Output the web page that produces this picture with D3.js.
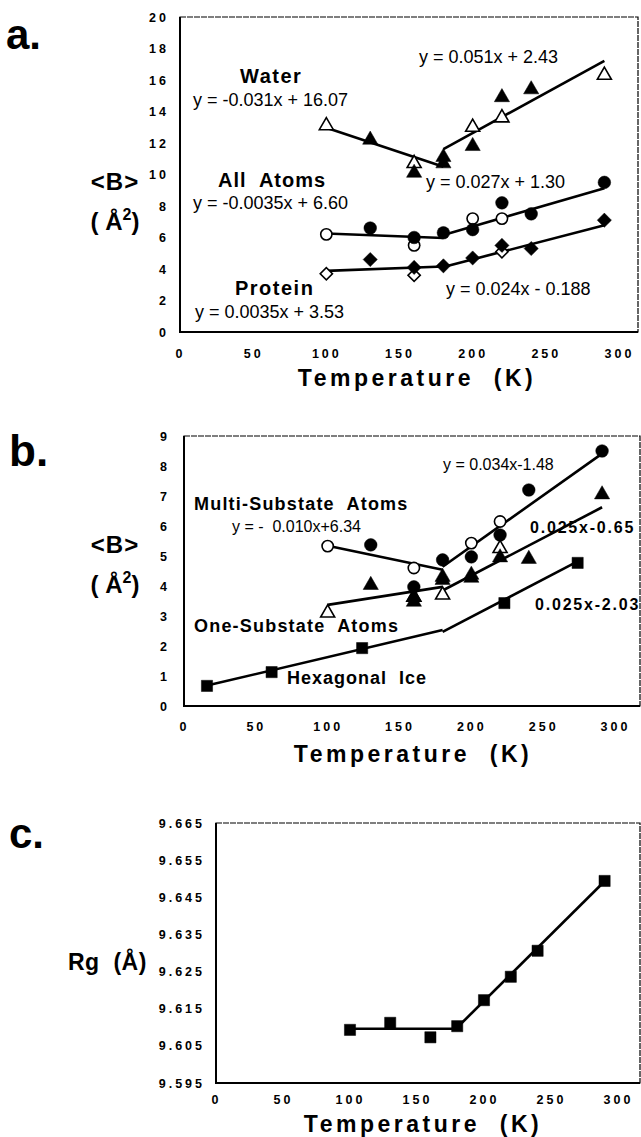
<!DOCTYPE html>
<html>
<head>
<meta charset="utf-8">
<script src="https://cdn.jsdelivr.net/npm/d3@7"></script>
<style>
  body { margin: 0; background: #fff; }
  svg { display: block; font-family: "Liberation Sans", Arial, sans-serif; }
  text { white-space: pre; }
</style>
</head>
<body>
<svg id="chart" width="641" height="1137"></svg>
<script>
const width = 641;
const height = 1137;

const tempTicks = [0, 50, 100, 150, 200, 250, 300];

// panel a  (T in K, <B> in A^2)
const bTicksA = [0, 2, 4, 6, 8, 10, 12, 14, 16, 18, 20];
const waterOpenT = [100, 160, 200, 220, 290];
const waterOpenB = [13.1, 10.7, 13.0, 13.6, 16.3];
const waterFilledT = [130, 160, 180, 180, 200, 220, 240];
const waterFilledB = [12.2, 10.1, 11.1, 10.7, 11.8, 14.9, 15.4];
const allOpenT = [100, 160, 200, 220];
const allOpenB = [6.2, 5.5, 7.2, 7.2];
const allFilledT = [130, 160, 180, 200, 220, 240, 290];
const allFilledB = [6.6, 6.0, 6.3, 6.5, 8.2, 7.5, 9.5];
const protOpenT = [100, 160, 220];
const protOpenB = [3.7, 3.6, 5.1];
const protFilledT = [130, 160, 180, 200, 220, 240, 290];
const protFilledB = [4.6, 4.1, 4.2, 4.7, 5.5, 5.3, 7.1];
// fits: [from T, to T, slope, intercept]
const waterFits = [[100, 180, -0.031, 16.07], [180, 290, 0.051, 2.43]];
const allFits = [[100, 180, -0.0035, 6.60], [180, 290, 0.027, 1.30]];
const protFits = [[100, 180, 0.0035, 3.53], [180, 290, 0.024, -0.188]];

// panel b
const bTicksB = [0, 1, 2, 3, 4, 5, 6, 7, 8, 9];
const iceT = [16, 61, 124, 223, 274];
const iceB = [0.67, 1.13, 1.93, 3.43, 4.77];
const multiOpenT = [100, 160, 200, 220];
const multiOpenB = [5.33, 4.6, 5.43, 6.15];
const multiFilledT = [130, 160, 180, 200, 220, 240, 291];
const multiFilledB = [5.37, 3.97, 4.87, 4.97, 5.7, 7.2, 8.5];
const oneOpenT = [100, 160, 180, 220];
const oneOpenB = [3.1, 3.63, 3.7, 5.25];
const oneFilledT = [130, 160, 160, 180, 180, 200, 200, 220, 240, 291];
const oneFilledB = [4.03, 3.63, 3.47, 4.3, 4.2, 4.37, 4.27, 4.95, 4.9, 7.05];
const iceFits = [[16, 180, 0.0113, 0.5], [180, 274, 0.025, -2.03]];
const multiFits = [[100, 180, -0.010, 6.34], [180, 291, 0.034, -1.48]];
const oneFits = [[100, 180, 0.0075, 2.62], [180, 291, 0.025, -0.65]];

// panel c  (Rg in A)
const rgTicks = [9.595, 9.605, 9.615, 9.625, 9.635, 9.645, 9.655, 9.665];
const rgT = [100, 130, 160, 180, 200, 220, 240, 290];
const rgV = [9.6093, 9.6112, 9.6073, 9.6103, 9.6173, 9.6236, 9.6306, 9.6494];
const rgFits = [[100, 180, 0, 9.6096], [180, 290, 0.000358, 9.5455]];

const svg = d3.select('#chart');
svg.append('rect').attr('width', width).attr('height', height).attr('fill', '#fff');

const zip = (xs, ys) => xs.map((t, i) => [t, ys[i]]);

function panel(cfg) {
    const x = d3.scaleLinear().domain([0, 300]).range([cfg.left, cfg.x300]);
    const y = d3.scaleLinear().domain(cfg.yDomain).range([cfg.bottom, cfg.top]);
    const g = svg.append('g');

    // frame
    g.append('rect')
        .attr('x', cfg.left).attr('y', cfg.top)
        .attr('width', cfg.right - cfg.left).attr('height', cfg.bottom - cfg.top)
        .attr('fill', 'none').attr('stroke', '#000').attr('stroke-width', 1.2)
        .attr('stroke-dasharray', '6,1');
    g.append('path')
        .attr('d', `M${cfg.left},${cfg.top}V${cfg.bottom}H${cfg.right}`)
        .attr('fill', 'none').attr('stroke', '#000').attr('stroke-width', 2);

    // axes (labels only)
    const xa = g.append('g')
        .attr('transform', `translate(0,${cfg.bottom})`)
        .call(d3.axisBottom(x).tickValues(tempTicks).tickSize(0).tickPadding(cfg.xPad));
    const ya = g.append('g')
        .attr('transform', `translate(${cfg.left},0)`)
        .call(d3.axisLeft(y).tickValues(cfg.yTicks).tickSize(0).tickPadding(cfg.yPad)
            .tickFormat(cfg.yFormat));
    [xa, ya].forEach(a => {
        a.select('.domain').remove();
        a.selectAll('text')
            .attr('font-family', '"Liberation Sans", Arial, sans-serif')
            .attr('font-size', 12.5).attr('font-weight', 'bold')
            .attr('letter-spacing', 3).attr('fill', '#000');
    });

    // x title
    g.append('text')
        .attr('x', cfg.titleX).attr('y', cfg.titleY)
        .attr('text-anchor', 'middle')
        .attr('font-size', 23).attr('font-weight', 'bold').attr('letter-spacing', 3.5)
        .text('Temperature  (K)');

    // fit lines
    const line = d3.line().x(d => x(d[0])).y(d => y(d[1]));
    cfg.fits.forEach(f => {
        g.append('path')
            .attr('d', line([[f[0], f[2] * f[0] + f[3]], [f[1], f[2] * f[1] + f[3]]]))
            .attr('fill', 'none').attr('stroke', '#000').attr('stroke-width', 2.6);
    });

    // markers
    cfg.series.forEach(s => {
        g.selectAll(null)
            .data(zip(s.t, s.v))
            .join('path')
            .attr('transform', d => `translate(${x(d[0])},${y(d[1])})` + (s.rotate ? ' rotate(45)' : ''))
            .attr('d', d3.symbol().type(s.type).size(s.size))
            .attr('fill', s.open ? '#fff' : '#000')
            .attr('stroke', '#000')
            .attr('stroke-width', s.open ? 1.6 : 0.5);
    });

    return g;
}

function label(txt, x, y, size, opts = {}) {
    return svg.append('text')
        .attr('x', x).attr('y', y)
        .attr('font-size', size)
        .attr('font-weight', opts.bold ? 'bold' : 'normal')
        .attr('letter-spacing', opts.ls || 0)
        .attr('text-anchor', opts.anchor || 'start')
        .text(txt);
}

function bLabel(cx, yTop) {
    label('<B>', cx, yTop, 24, { bold: true, anchor: 'middle', ls: 1 });
    const t = svg.append('text')
        .attr('x', cx).attr('y', yTop + 40)
        .attr('text-anchor', 'middle')
        .attr('font-size', 24).attr('font-weight', 'bold');
    t.append('tspan').text('( Å');
    t.append('tspan').attr('dy', -10).attr('font-size', 16).text('2');
    t.append('tspan').attr('dy', 10).text(')');
}

const triFilled = (t, v) => ({ t, v, type: d3.symbolTriangle, size: 100, open: false });
const triOpen = (t, v) => ({ t, v, type: d3.symbolTriangle, size: 85, open: true });
const circFilled = (t, v) => ({ t, v, type: d3.symbolCircle, size: 125, open: false });
const circOpen = (t, v) => ({ t, v, type: d3.symbolCircle, size: 100, open: true });
const diaFilled = (t, v) => ({ t, v, type: d3.symbolSquare, size: 100, open: false, rotate: true });
const diaOpen = (t, v) => ({ t, v, type: d3.symbolSquare, size: 75, open: true, rotate: true });
const sqFilled = (t, v) => ({ t, v, type: d3.symbolSquare, size: 125, open: false });

// ---- panel a
panel({
    left: 180, right: 638, top: 17, bottom: 332, x300: 619,
    yDomain: [0, 20], yTicks: bTicksA, yFormat: d3.format('d'), xPad: 17, yPad: 11,
    titleX: 417, titleY: 386,
    fits: [...waterFits, ...allFits, ...protFits],
    series: [
        triOpen(waterOpenT, waterOpenB), triFilled(waterFilledT, waterFilledB),
        circOpen(allOpenT, allOpenB), circFilled(allFilledT, allFilledB),
        diaOpen(protOpenT, protOpenB), diaFilled(protFilledT, protFilledB)
    ]
});
label('a.', 6, 49, 42, { bold: true });
bLabel(115, 190);
label('Water', 240, 83, 20, { bold: true, ls: 1.5 });
label('y = -0.031x + 16.07', 193, 106, 18);
label('y = 0.051x + 2.43', 419, 63, 18);
label('All  Atoms', 218, 187, 20, { bold: true, ls: 1 });
label('y = -0.0035x + 6.60', 193, 209, 18);
label('y = 0.027x + 1.30', 426, 188, 18);
label('Protein', 235, 295, 20, { bold: true, ls: 1.5 });
label('y = 0.0035x + 3.53', 195, 318, 18);
label('y = 0.024x - 0.188', 446, 295, 18);

// ---- panel b
panel({
    left: 184, right: 640, top: 436, bottom: 706, x300: 615,
    yDomain: [0, 9], yTicks: bTicksB, yFormat: d3.format('d'), xPad: 16, yPad: 14,
    titleX: 413, titleY: 762,
    fits: [...iceFits, ...multiFits, ...oneFits],
    series: [
        sqFilled(iceT, iceB),
        triOpen(oneOpenT, oneOpenB), triFilled(oneFilledT, oneFilledB),
        circOpen(multiOpenT, multiOpenB), circFilled(multiFilledT, multiFilledB)
    ]
});
label('b.', 9, 466, 44, { bold: true });
bLabel(115, 553);
label('Multi-Substate  Atoms', 194, 510, 18, { bold: true, ls: 1.2 });
label('y = -  0.010x+6.34', 232, 532, 16);
label('y = 0.034x-1.48', 443, 470, 16);
label('0.025x-0.65', 530, 533, 16, { bold: true, ls: 1.8 });
label('One-Substate  Atoms', 194, 632, 18, { bold: true, ls: 1.2 });
label('0.025x-2.03', 535, 610, 16, { bold: true, ls: 1.8 });
label('Hexagonal  Ice', 287, 684, 18, { bold: true, ls: 1 });

// ---- panel c
panel({
    left: 216, right: 640, top: 823, bottom: 1083, x300: 618,
    yDomain: [9.595, 9.665], yTicks: rgTicks, yFormat: d3.format('.3f'), xPad: 12, yPad: 11,
    titleX: 423, titleY: 1132,
    fits: rgFits,
    series: [sqFilled(rgT, rgV)]
});
label('c.', 9, 848, 42, { bold: true });
label('Rg  (Å)', 68, 970, 23, { bold: true, ls: 0.5 });
</script>
</body>
</html>
